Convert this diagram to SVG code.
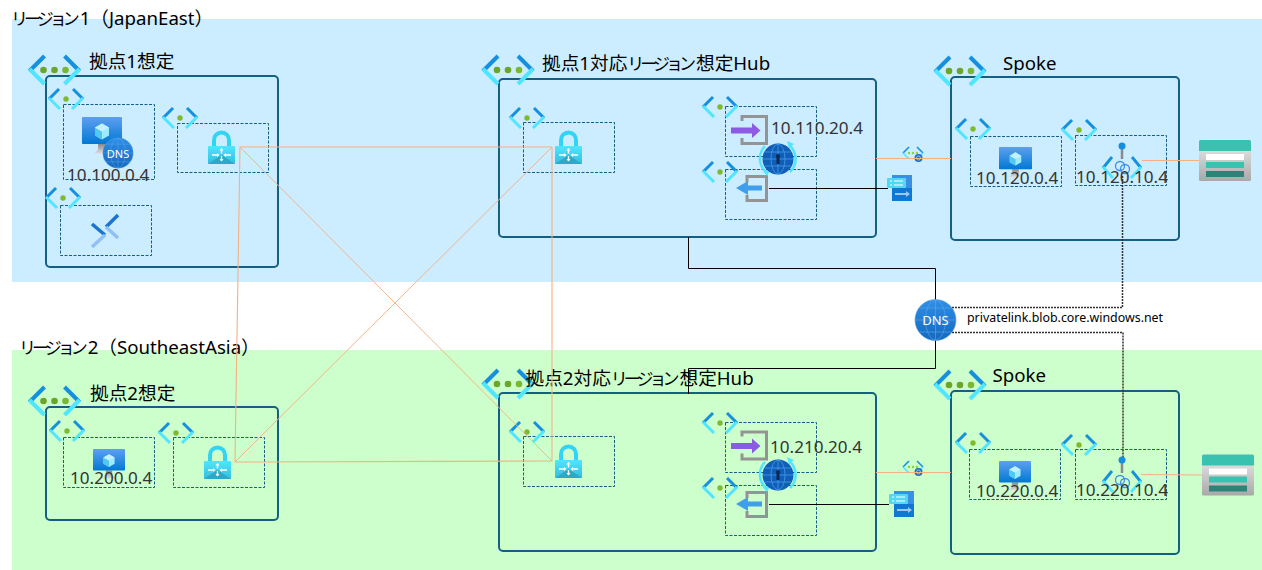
<svg xmlns="http://www.w3.org/2000/svg" xmlns:xlink="http://www.w3.org/1999/xlink" width="1262" height="570" viewBox="0 0 1262 570">
<style>
text{font-family:"Noto Sans","Noto Sans CJK JP",sans-serif;fill:#000}
.t{font-size:18.67px}
.r{font-size:18.67px}
.k{font-size:17px;letter-spacing:-4px}
.ip{font-size:17.1px;fill:#333}
.box{fill:none;stroke:#156082;stroke-width:2}
.sub{fill:none;stroke:#156082;stroke-width:1;stroke-dasharray:3 1.5}
.o{fill:none;stroke:#F4B183;stroke-width:1.1}
.d{fill:none;stroke:#F4B183;stroke-width:.95}
.b{fill:none;stroke:#000;stroke-width:1}
.dot{fill:none;stroke:#333;stroke-width:1.5;stroke-dasharray:2 1}
.ck{fill:none;stroke-width:4;stroke-linecap:butt}
.cs{fill:none;stroke-width:3}
</style>
<defs>
<linearGradient id="gLock" x1="0" y1="0" x2="0" y2="1"><stop offset="0" stop-color="#50E6FF"/><stop offset="1" stop-color="#32BEDD"/></linearGradient>
<linearGradient id="gMon" x1="0" y1="0" x2="0" y2="1"><stop offset="0" stop-color="#5EA0EF"/><stop offset="1" stop-color="#0078D4"/></linearGradient>
<linearGradient id="gStand" x1="0" y1="0" x2="0" y2="1"><stop offset="0" stop-color="#8A8A8A"/><stop offset="1" stop-color="#E2E2E2"/></linearGradient>
<linearGradient id="gDns" x1="0" y1="0" x2="0" y2="1"><stop offset="0" stop-color="#2F8FE6"/><stop offset="1" stop-color="#1568BE"/></linearGradient>
<linearGradient id="gSto" x1="0" y1="0" x2="0" y2="1"><stop offset="0" stop-color="#EDEDED"/><stop offset="1" stop-color="#A8A8A8"/></linearGradient>
<g id="vnetL">
<path class="ck" stroke="#1490DF" d="M-10-14-25 1"/><path class="ck" stroke="#50E6FF" d="M-25-1-10 14"/>
<path class="ck" stroke="#1490DF" d="M10-14 25 1"/><path class="ck" stroke="#50E6FF" d="M25-1 10 14"/>
<circle cx="-11" r="3.3" fill="#6BA52A"/><circle r="3.3" fill="#6BA52A"/><circle cx="11" r="3.3" fill="#7AB82F"/>
</g>
<g id="vnetS">
<path class="cs" stroke="#1490DF" d="M-7-10-17 0"/><path class="cs" stroke="#50E6FF" d="M-17-1-6 10"/>
<path class="cs" stroke="#1490DF" d="M7-10 17 0"/><path class="cs" stroke="#50E6FF" d="M17-1 6 10"/>
<circle r="2.7" fill="#7FBA2D"/>
</g>
<g id="vnetT">
<path fill="none" stroke-width="1.6" stroke="#1490DF" d="M-4-6-10 0"/><path fill="none" stroke-width="1.6" stroke="#50E6FF" d="M-10 0-4 6"/>
<path fill="none" stroke-width="1.6" stroke="#1490DF" d="M4-6 10 0"/><path fill="none" stroke-width="1.6" stroke="#50E6FF" d="M10 0 4 6"/>
<circle cx="-4" r="1.2" fill="#86D633"/><circle r="1.2" fill="#86D633"/><circle cx="4" r="1.2" fill="#86D633"/>
<circle cx="5.5" cy="5" r="4" fill="#1F6FC4"/><circle cx="5.5" cy="5" r="2" fill="none" stroke="#A9D3F7" stroke-width=".8"/>
</g>
<g id="lock">
<path d="M6 18V11a7.500 7.500 0 0 1 15 0V18" fill="none" stroke="#32D4F5" stroke-width="4"/>
<rect x="0" y="17" width="27" height="18" rx="1" fill="url(#gLock)"/>
<path d="M0 35 13.500 26 27 35Z" fill="#2CA8C8"/>
<path d="M13.500 19.500v5M13.500 27v5M4 26h6M17 26h6" stroke="#fff" stroke-width="1.400"/>
<path d="M11.500 21.500l2-2.500 2 2.500zM11.500 30l2 2.500 2-2.500zM9 24l2.500 2-2.500 2zM18 24l-2.500 2 2.500 2z" fill="#fff"/>
</g>
<g id="vm">
<path d="M16 27h8v6l5 4H11l5-4z" fill="url(#gStand)"/>
<rect width="40" height="27" rx="1" fill="url(#gMon)"/>
<path d="M20 6.500 27 10.500V18.500L20 22.500 13 18.500V10.500Z" fill="#9CEBFF"/>
<path d="M20 14.500V22.500L13 18.500V10.500Z" fill="#50C8F0"/>
<path d="M20 6.500 27 10.500 20 14.500 13 10.500Z" fill="#C3F1FF"/>
</g>
<g id="bastion">
<path d="M0 9 13 20" stroke="#1B74CF" stroke-width="3.500" fill="none"/><path d="M13 20 0 32" stroke="#8FC1F5" stroke-width="3.500" fill="none"/>
<path d="M26 0 14 12" stroke="#1B74CF" stroke-width="3.500" fill="none"/><path d="M14 12 26 23" stroke="#8FC1F5" stroke-width="3.500" fill="none"/>
</g>
<g id="inbound">
<path d="M0 6V1.500H24.500V28.500H0V23" fill="none" stroke="#949494" stroke-width="3"/>
<path d="M-11 12.500H10V8L18.500 15.500 10 23V18.500H-11Z" fill="#8C5AE3"/>
</g>
<g id="outbound">
<path d="M0 7V1.500H19.500V25.500H0V20" fill="none" stroke="#949494" stroke-width="3"/>
<path d="M15 10.500H1V6L-11 13 1 20V15.500H15Z" fill="#3F9FEA"/>
</g>
<g id="globe">
<path d="M-13-13A18 18 0 0 0-12 13M11-14A18 18 0 0 1 12 13" fill="none" stroke="#50E6FF" stroke-width="2.500"/>
<path d="M9-18l7 3-5 4zM-11 17l-4-5 7-1z" fill="#50E6FF"/>
<circle r="15.500" fill="#0F5FB8"/>
<ellipse rx="7" ry="15" fill="none" stroke="#3E8FE0"/><path d="M-15 0H15M-13-7H13M-13 7H13M0-15V15" stroke="#3E8FE0" fill="none"/>
<circle cy="-3" r="2" fill="#0A2A55"/><rect x="-1.500" y="-3" width="3" height="8" fill="#0A2A55"/>
</g>
<g id="ruleset">
<rect x="5" y="0" width="20" height="26" fill="#0F78D4"/>
<rect x="5" y="0" width="20" height="13" fill="#3B8FE3"/>
<rect x="0" y="3" width="19" height="10" rx="1" fill="#50D8F5"/>
<path d="M3 6h2M7 6h9M3 10h2M7 10h9" stroke="#fff"/>
<path d="M8 19H21" stroke="#9CC9F4" stroke-width="2"/><path d="M19 16l4 3-4 3z" fill="#9CC9F4"/>
</g>
<g id="pe">
<path d="M0-21V-8" stroke="#8A8A8A" stroke-width="2.500"/>
<circle cy="-21" r="3.500" fill="#1490DF"/>
<path d="M-10-10-19 1" fill="none" stroke="#1490DF" stroke-width="2.800"/><path d="M-19 0-9 11" fill="none" stroke="#50E6FF" stroke-width="2.800"/>
<path d="M10-10 19 1" fill="none" stroke="#1490DF" stroke-width="2.800"/><path d="M19 0 9 11" fill="none" stroke="#50E6FF" stroke-width="2.800"/>
<circle cx="-2" cy="-1" r="4.500" fill="none" stroke="#3F8FE6" stroke-width="1.300"/><circle cx="3" cy="2" r="4.500" fill="none" stroke="#3F8FE6" stroke-width="1.300"/>
</g>
<g id="storage">
<rect width="52" height="41" rx="1.500" fill="url(#gSto)"/>
<path d="M0 11V1.500A1.500 1.500 0 0 1 1.500 0H50.500A1.500 1.500 0 0 1 52 1.500V11Z" fill="#3AC2B0"/>
<rect x="7" y="14" width="38" height="6" fill="#fff"/><rect x="7" y="22" width="38" height="6" fill="#3AC2B0"/><rect x="7" y="31" width="38" height="6" fill="#2A8478"/>
</g>
<g id="dnsglobe">
<circle r="20.500" fill="url(#gDns)" stroke="#4FA0EA" stroke-width=".6"/>
<ellipse rx="10" ry="20" fill="none" stroke="#5FA8EC" stroke-width=".6"/><path d="M-20 0H20M-16-12H16M-16 12H16M0-20V20" fill="none" stroke="#5FA8EC" stroke-width=".6"/>
</g>
</defs>

<rect width="1262" height="570" fill="#fff"/>
<g id="regions">
<rect x="12" y="19" width="1250" height="263" fill="#CCECFF"/>
<rect x="12" y="350" width="1250" height="220" fill="#CCFFCC"/>
<text class="r" x="11" y="25"><tspan class="k">リージョン</tspan><tspan dx="4">1（JapanEast）</tspan></text>
<text class="r" x="19" y="354"><tspan class="k">リージョン</tspan><tspan dx="4">2（SoutheastAsia）</tspan></text>
</g>

<g id="site1">
<rect class="box" x="46" y="76" width="232" height="191" rx="4"/>
<use href="#vnetL" x="54.500" y="70"/>
<text class="t" x="89" y="68">拠点1想定</text>
</g>
<g id="site1-dns-subnet">
<rect class="sub" x="63.500" y="104.500" width="91" height="75"/>
<use href="#vnetS" x="66" y="99"/>
<use href="#vm" x="82" y="117"/>
<use href="#dnsglobe" transform="translate(118 153) scale(.74)"/>
<text x="118" y="157.500" text-anchor="middle" style="font-size:11px;fill:#fff">DNS</text>
<text class="ip" x="67" y="181">10.100.0.4</text>
</g>
<g id="site1-gw-subnet">
<rect class="sub" x="177.500" y="123.500" width="91" height="49"/>
<use href="#vnetS" x="180" y="118"/>
<use href="#lock" x="208" y="129"/>
</g>
<g id="site1-bastion-subnet">
<rect class="sub" x="60.500" y="205.500" width="91" height="50"/>
<use href="#vnetS" x="63" y="198"/>
<use href="#bastion" x="92" y="215"/>
</g>

<g id="hub1">
<rect class="box" x="499" y="79" width="377" height="158" rx="4"/>
<use href="#vnetL" x="508" y="70"/>
<text class="t" x="542" y="70"><tspan>拠点1対応</tspan><tspan class="k">リージョン</tspan><tspan dx="4">想定Hub</tspan></text>
</g>
<g id="hub1-gw-subnet">
<rect class="sub" x="523.500" y="122.500" width="91" height="50"/>
<use href="#vnetS" x="527" y="118"/>
<use href="#lock" x="555" y="129"/>
</g>
<g id="hub1-inbound-subnet">
<rect class="sub" x="725.500" y="106.500" width="91" height="50"/>
<use href="#vnetS" x="720" y="107"/>
<use href="#inbound" x="742" y="115"/>
<text class="ip" x="771" y="134">10.110.20.4</text>
</g>
<g id="hub1-outbound-subnet">
<rect class="sub" x="725.500" y="169.500" width="91" height="50"/>
<use href="#vnetS" x="720" y="172"/>
<use href="#outbound" x="747" y="175"/>
</g>
<g id="hub1-resolver"><use href="#globe" x="778" y="159"/></g>
<g id="hub1-ruleset"><use href="#ruleset" x="887" y="175"/></g>
<g id="peering1"><use href="#vnetT" x="913" y="153"/></g>

<g id="spoke1">
<rect class="box" x="951" y="77" width="228" height="163" rx="4"/>
<use href="#vnetL" x="960" y="71"/>
<text class="t" x="1003" y="70">Spoke</text>
</g>
<g id="spoke1-vm-subnet">
<rect class="sub" x="970.500" y="136.500" width="91" height="50"/>
<use href="#vnetS" x="973" y="129"/>
<use href="#vm" transform="translate(999 147) scale(.825)"/>
<text class="ip" x="976" y="184">10.120.0.4</text>
</g>
<g id="spoke1-pe-subnet">
<rect class="sub" x="1075.500" y="135.500" width="91" height="50"/>
<use href="#vnetS" x="1079" y="130"/>
</g>
<g id="storage1"><use href="#storage" x="1199" y="140"/></g>

<g id="site2">
<rect class="box" x="46" y="407" width="232" height="113" rx="4"/>
<use href="#vnetL" x="54.500" y="401"/>
<text class="t" x="90" y="400">拠点2想定</text>
</g>
<g id="site2-vm-subnet">
<rect class="sub" x="63.500" y="437.500" width="91" height="50"/>
<use href="#vnetS" x="67" y="431"/>
<use href="#vm" transform="translate(93 449) scale(.8)"/>
<text class="ip" x="70" y="484">10.200.0.4</text>
</g>
<g id="site2-gw-subnet">
<rect class="sub" x="173.500" y="437.500" width="91" height="50"/>
<use href="#vnetS" x="176" y="433"/>
<use href="#lock" x="204" y="444"/>
</g>

<g id="hub2">
<rect class="box" x="499" y="393" width="377" height="158" rx="4"/>
<use href="#vnetL" x="508" y="384"/>
<text class="t" x="525.500" y="385"><tspan>拠点2対応</tspan><tspan class="k">リージョン</tspan><tspan dx="4">想定Hub</tspan></text>
</g>
<g id="hub2-gw-subnet">
<rect class="sub" x="523.500" y="436.500" width="91" height="50"/>
<use href="#vnetS" x="527" y="432"/>
<use href="#lock" x="555" y="443"/>
</g>
<g id="hub2-inbound-subnet">
<rect class="sub" x="725.500" y="422.500" width="91" height="50"/>
<use href="#vnetS" x="720" y="423"/>
<use href="#inbound" x="742" y="430.500"/>
<text class="ip" x="770" y="453">10.210.20.4</text>
</g>
<g id="hub2-outbound-subnet">
<rect class="sub" x="725.500" y="485.500" width="91" height="50"/>
<use href="#vnetS" x="720" y="488"/>
<use href="#outbound" x="747" y="491"/>
</g>
<g id="hub2-resolver"><use href="#globe" x="778" y="475"/></g>
<g id="hub2-ruleset"><use href="#ruleset" x="889" y="491"/></g>
<g id="peering2"><use href="#vnetT" x="913" y="467"/></g>

<g id="spoke2">
<rect class="box" x="951" y="391" width="228" height="163" rx="4"/>
<use href="#vnetL" x="960" y="385"/>
<text class="t" x="992.500" y="382">Spoke</text>
</g>
<g id="spoke2-vm-subnet">
<rect class="sub" x="969.500" y="449.500" width="91" height="50"/>
<use href="#vnetS" x="973" y="443"/>
<use href="#vm" transform="translate(999 461) scale(.8)"/>
<text class="ip" x="976" y="497">10.220.0.4</text>
</g>
<g id="spoke2-pe-subnet">
<rect class="sub" x="1075.500" y="449.500" width="91" height="50"/>
<use href="#vnetS" x="1079" y="445"/>
</g>
<g id="storage2"><use href="#storage" x="1202" y="454.500"/></g>

<g id="connectors">
<path class="o" d="M552 147H240L235 462L552 461V147"/>
<path class="d" d="M240 147 552 461M235 462 552 147"/>
<path class="o" d="M876 158.500H951M876 472.500H951M1142 160.500H1199M1141 474.500 1202 475"/>
<path class="b" d="M688.500 237V268.500H935.500V300M935.500 340V368.500H688.500V394M769 188.500H888M769 504.500H889"/>
<path class="dot" d="M952 307.500H1122.500V175"/>
<path class="dot" d="M952 332.500H1123V460"/>
</g>

<g id="pe1"><use href="#pe" x="1122" y="167"/><text class="ip" x="1076" y="183">10.120.10.4</text></g>
<g id="pe2"><use href="#pe" x="1122" y="481"/><text class="ip" x="1076" y="496">10.220.10.4</text></g>
<g id="private-dns">
<use href="#dnsglobe" x="935.500" y="320"/>
<text x="935.500" y="325" text-anchor="middle" style="font-size:13px;fill:#fff">DNS</text>
<text x="967" y="322" style="font-size:12.400px">privatelink.blob.core.windows.net</text>
</g>
</svg>
